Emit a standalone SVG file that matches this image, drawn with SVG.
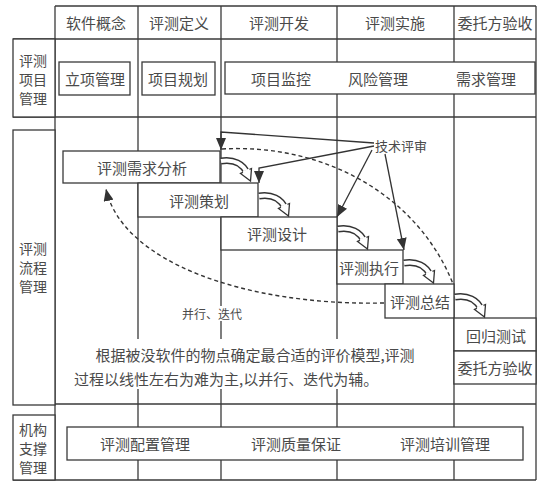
<svg xmlns="http://www.w3.org/2000/svg" width="542" height="482" viewBox="0 0 542 482">
<style>
.ln{stroke:#3a3a3a;stroke-width:1.3;fill:none}
.bx{stroke:#3a3a3a;stroke-width:1.3;fill:#fff}
.t{font-family:"Noto Sans CJK SC","Noto Sans CJK JP",sans-serif;font-size:15px;fill:#4a4a4a;text-anchor:middle;dominant-baseline:central}
.lb{font-size:14px}
.s{font-size:12px}
.r{font-size:13px}
.ar{stroke:#333;stroke-width:1.3;fill:none}
.ds{stroke:#333;stroke-width:1.4;fill:none;stroke-dasharray:4 3}
</style>
<defs>
<marker id="tri" markerUnits="userSpaceOnUse" markerWidth="14" markerHeight="10" refX="12" refY="5" orient="auto">
<path d="M0,0 L12,5 L0,10 Z" fill="#333"/>
</marker>
<g id="bend">
<path d="M0,0 C13,-2 22,3 26,12" stroke="#333" stroke-width="7" fill="none"/>
<path d="M0,0 C13,-2 22,3 26,12" stroke="#fff" stroke-width="4" fill="none"/>
<path d="M30.5,7.5 L29.5,20 L19.5,12.5 Z" fill="#fff" stroke="#333" stroke-width="1.3" stroke-linejoin="miter"/>
<path d="M22,11.5 L28.5,8.5" stroke="#fff" stroke-width="2.2"/>
</g>
</defs>

<g id="grid">
<line class="ln" x1="55" y1="6" x2="536" y2="6"/>
<line class="ln" x1="13" y1="39" x2="536" y2="39"/>
<line class="ln" x1="13" y1="117" x2="536" y2="117"/>
<line class="ln" x1="55" y1="404" x2="536" y2="404"/>
<line class="ln" x1="13" y1="480" x2="536" y2="480"/>
<line class="ln" x1="55" y1="6" x2="55" y2="480"/>
<line class="ln" x1="138" y1="6" x2="138" y2="480"/>
<line class="ln" x1="221" y1="6" x2="221" y2="480"/>
<line class="ln" x1="337" y1="6" x2="337" y2="480"/>
<line class="ln" x1="454" y1="6" x2="454" y2="480"/>
<line class="ln" x1="536" y1="6" x2="536" y2="480"/>
</g>

<g id="header">
<text class="t" x="96" y="22">软件概念</text>
<text class="t" x="179" y="22">评测定义</text>
<text class="t" x="279" y="22">评测开发</text>
<text class="t" x="395" y="22">评测实施</text>
<text class="t" x="495" y="22">委托方验收</text>
</g>

<g id="row1-label">
<rect class="bx" x="13" y="39" width="42" height="78"/>
<text class="t lb" x="33" y="60">评测</text>
<text class="t lb" x="33" y="79">项目</text>
<text class="t lb" x="33" y="98">管理</text>
</g>
<g id="lixiang">
<rect class="bx" x="59" y="62" width="71" height="33"/>
<text class="t" x="95" y="78">立项管理</text>
</g>
<g id="guihua">
<rect class="bx" x="142" y="62" width="73" height="33"/>
<text class="t" x="178" y="78">项目规划</text>
</g>
<g id="jiankong">
<rect class="bx" x="225" y="62" width="310" height="32"/>
<text class="t" x="281" y="78">项目监控</text>
<text class="t" x="378" y="78">风险管理</text>
<text class="t" x="486" y="78">需求管理</text>
</g>

<g id="row2-label">
<rect class="bx" x="13" y="130" width="42" height="275"/>
<text class="t lb" x="33" y="248">评测</text>
<text class="t lb" x="33" y="267">流程</text>
<text class="t lb" x="33" y="286">管理</text>
</g>

<g id="note">
<rect x="72" y="339" width="350" height="50" fill="#fff"/>
<text class="t" x="255" y="354">根据被没软件的物点确定最合适的评价模型,评测</text>
<text class="t" x="74" y="378" style="text-anchor:start">过程以线性左右为难为主,以并行、迭代为辅。</text>
<rect x="181" y="306" width="63" height="15" fill="#fff"/>
<text class="t s" x="212" y="313">并行、迭代</text>
</g>

<g id="xuqiu">
<rect class="bx" x="63" y="151" width="157" height="32"/>
<text class="t" x="142" y="167">评测需求分析</text>
</g>
<g id="cehua">
<rect class="bx" x="138" y="183" width="120" height="34"/>
<text class="t" x="199" y="200">评测策划</text>
</g>
<g id="sheji">
<rect class="bx" x="221" y="217" width="116" height="33"/>
<text class="t" x="277" y="233">评测设计</text>
</g>
<g id="zhixing">
<rect class="bx" x="337" y="250" width="66" height="34"/>
<text class="t" x="369" y="267">评测执行</text>
</g>
<g id="zongjie">
<rect class="bx" x="385" y="284" width="69" height="34"/>
<text class="t" x="420" y="301">评测总结</text>
</g>
<g id="huigui">
<rect class="bx" x="454" y="318" width="82" height="33"/>
<text class="t" x="496" y="335">回归测试</text>
</g>
<g id="yanshou">
<rect class="bx" x="454" y="351" width="82" height="33"/>
<text class="t" x="495" y="367">委托方验收</text>
</g>

<g id="jishupingshen">
<text class="t r" x="401" y="145">技术评审</text>
</g>

<g id="row3-label">
<rect class="bx" x="13" y="415" width="42" height="65"/>
<text class="t lb" x="33" y="429">机构</text>
<text class="t lb" x="33" y="448">支撑</text>
<text class="t lb" x="33" y="467">管理</text>
</g>
<g id="support">
<rect class="bx" x="67" y="427" width="456" height="33"/>
<text class="t" x="145" y="443">评测配置管理</text>
<text class="t" x="296" y="443">评测质量保证</text>
<text class="t" x="445" y="443">评测培训管理</text>
</g>

<g id="connectors">
<use href="#bend" x="221" y="161"/>
<use href="#bend" x="259" y="196"/>
<use href="#bend" x="338" y="229"/>
<use href="#bend" x="404" y="263"/>
<use href="#bend" x="455" y="297"/>
<polyline class="ar" points="374,143 221,132 221,150" marker-end="url(#tri)"/>
<polyline class="ar" points="374,146 259,168 259,183" marker-end="url(#tri)"/>
<line class="ar" x1="372" y1="150" x2="337" y2="217" marker-end="url(#tri)"/>
<line class="ar" x1="385" y1="154" x2="404" y2="250" marker-end="url(#tri)"/>
<path class="ds" d="M222,149 C330,143 420,200 453,284"/>
<path class="ds" d="M384,303 C245,306 122,262 106,189" marker-end="url(#tri)"/>
</g>
</svg>
